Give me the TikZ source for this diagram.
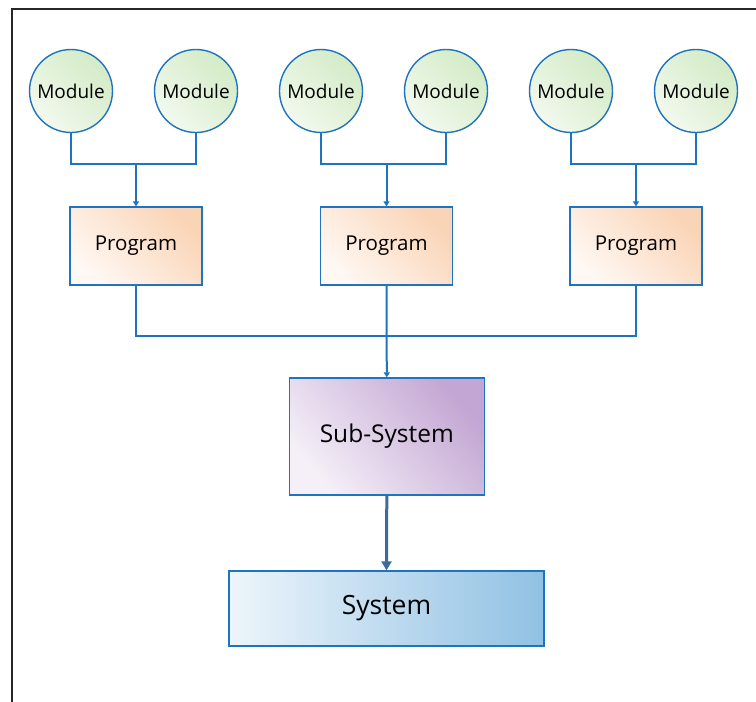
\documentclass[tikz,border=0pt]{standalone}
\usepackage{fontspec}
\setmainfont{Open Sans}
\usetikzlibrary{arrows.meta}
\definecolor{lineblue}{HTML}{1F74C0}
\definecolor{darkarrow}{HTML}{3D6B9C}
\definecolor{greenA}{HTML}{F2F9EE}
\definecolor{greenB}{HTML}{D3EBC6}
\definecolor{peachA}{HTML}{FFF8F3}
\definecolor{peachB}{HTML}{FAD4B6}
\definecolor{lilacA}{HTML}{F5F0F8}
\definecolor{lilacB}{HTML}{C3A6D3}
\definecolor{skyA}{HTML}{EDF5FB}
\definecolor{skyB}{HTML}{90C1E3}
\tikzset{
  modnode/.style={circle, draw=lineblue, line width=1.4pt, minimum size=83pt, inner sep=0pt,
    top color=greenB, bottom color=greenA, shading angle=-45,
    font=\fontsize{19}{19}\selectfont},
  progbox/.style={rectangle, draw=lineblue, line width=1.3pt, minimum width=132pt, minimum height=78pt, inner sep=0pt,
    top color=peachB, bottom color=peachA, shading angle=-45,
    font=\fontsize{20.5}{20}\selectfont},
  subbox/.style={rectangle, draw=lineblue, line width=1.3pt, minimum width=195pt, minimum height=117pt, inner sep=0pt,
    top color=lilacB, bottom color=lilacA, shading angle=-50,
    font=\fontsize{24.5}{24}\selectfont},
  sysbox/.style={rectangle, draw=lineblue, line width=1.3pt, minimum width=315pt, minimum height=75pt, inner sep=0pt,
    left color=skyA, right color=skyB,
    font=\fontsize{26.5}{26}\selectfont},
  conn/.style={draw=lineblue, line width=2pt},
  connarrow/.style={conn, -{Triangle[width=6pt,length=5pt]}},
  bigarrow/.style={draw=darkarrow, line width=3pt, -{Triangle[width=10pt,length=9pt]}},
  frameline/.style={draw=black!85, line width=2pt}
}
\begin{document}
\begin{tikzpicture}[x=1pt,y=-1pt]
\useasboundingbox (0,0) rectangle (756,702);
\fill[white] (0,0) rectangle (756,702);
% frame
\coordinate (fa) at (11.5,702);
\coordinate (fb) at (11.5,8.5);
\coordinate (fc) at (756,8.5);
\draw[frameline] (fa) -- (fb) -- (fc);
% modules
\node[modnode] (m1) at (71,91) {Module};
\node[modnode] (m2) at (196,91) {Module};
\node[modnode] (m3) at (321,91) {Module};
\node[modnode] (m4) at (446,91) {Module};
\node[modnode] (m5) at (571,91) {Module};
\node[modnode] (m6) at (696,91) {Module};
% programs
\node[progbox] (p1) at (136,246) {Program};
\node[progbox] (p2) at (386.5,246) {Program};
\node[progbox] (p3) at (636,246) {Program};
% sub-system and system
\node[subbox] (sub) at (386.8,436.5) {Sub-System};
\node[sysbox] (sys) at (386.5,608.5) {System};
% module -> program connectors
\coordinate (j1) at (136,164);
\coordinate (j2) at (386.5,164);
\coordinate (j3) at (636,164);
\draw[conn] (m1.south) |- (j1) -| (m2.south);
\draw[conn] (m3.south) |- (j2) -| (m4.south);
\draw[conn] (m5.south) |- (j3) -| (m6.south);
\draw[connarrow] (j1) -- (p1.north);
\draw[connarrow] (j2) -- (p2.north);
\draw[connarrow] (j3) -- (p3.north);
% program -> sub-system
\coordinate (jb) at (386.5,336);
\draw[conn] (p1.south) |- (jb) -| (p3.south);
\draw[connarrow] (p2.south) -- (sub.north);
% sub-system -> system
\draw[bigarrow] (sub.south) -- (sys.north);
\end{tikzpicture}
\end{document}
